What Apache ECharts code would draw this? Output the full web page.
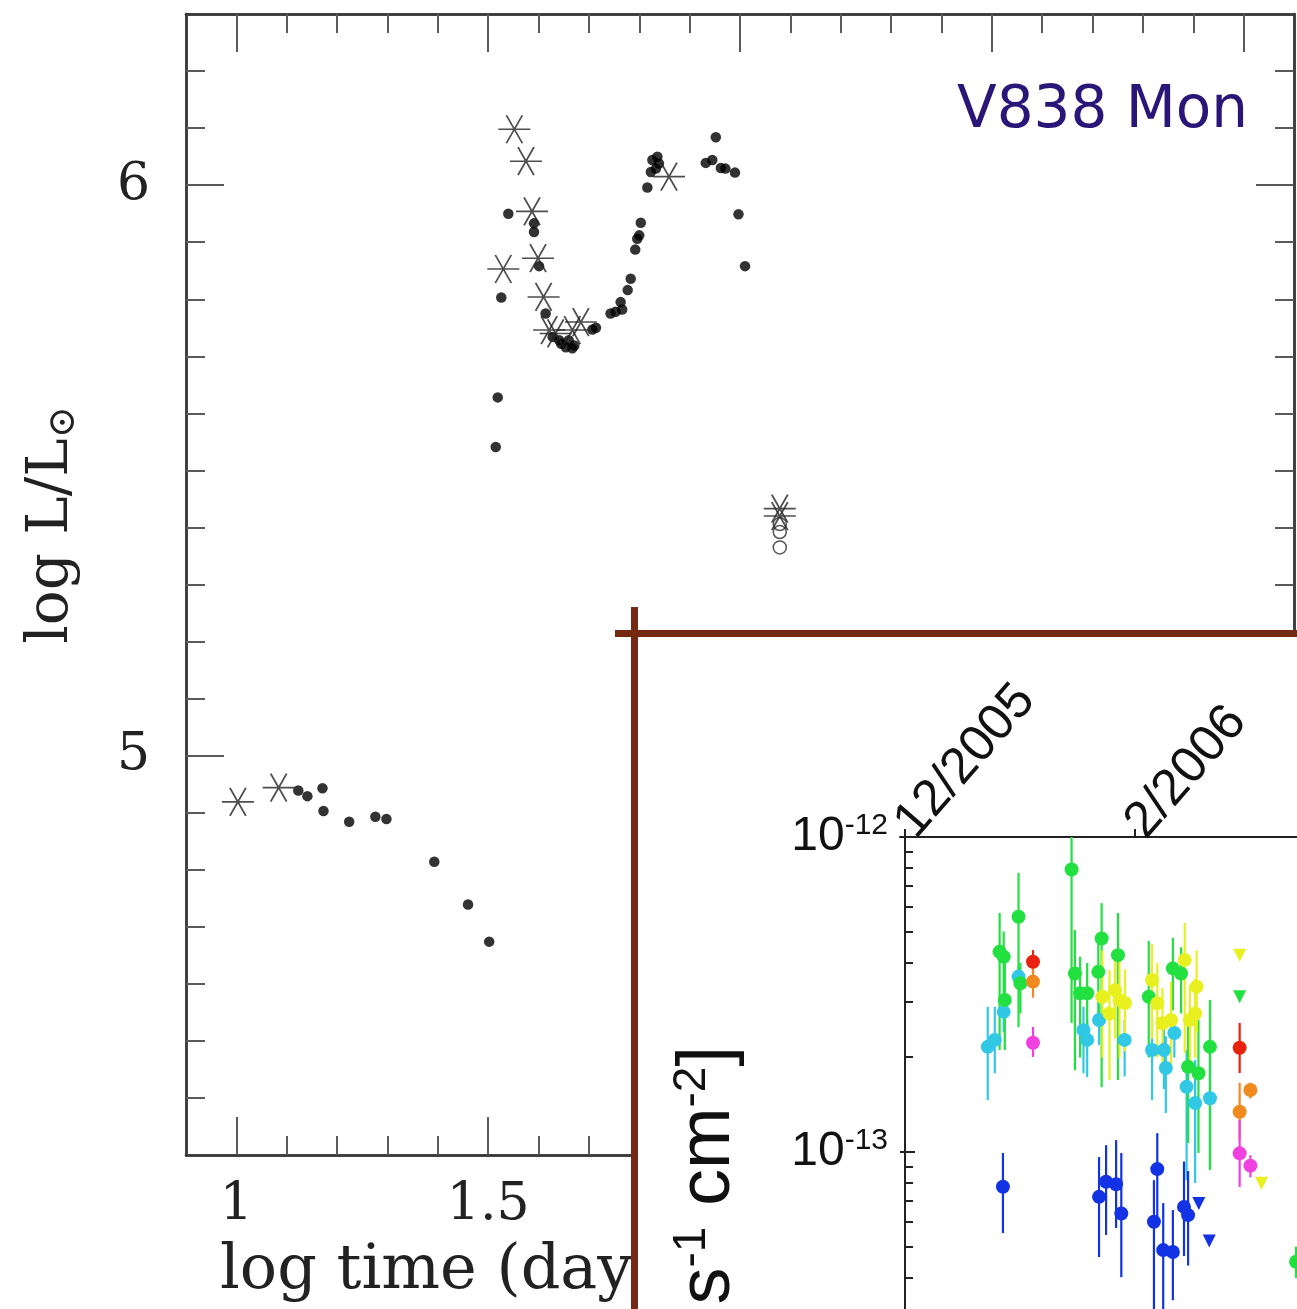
<!DOCTYPE html>
<html>
<head>
<meta charset="UTF-8">
<title>V838 Mon</title>
<script type="text/javascript" src="https://cdn.jsdelivr.net/npm/echarts@6/dist/echarts.min.js"></script>
<style>
html, body { margin:0; padding:0; overflow:hidden; background:#fff; }
</style>
</head>
<body>
<div id="main" style="width:1297px;height:1309px"></div>
<script type="text/javascript">
// main panel: log time (days) vs log L/Lsun
var dots = [
  [1.123,4.939],[1.141,4.929],[1.171,4.943],[1.173,4.903],[1.224,4.884],[1.276,4.893],[1.298,4.889],
  [1.393,4.814],[1.460,4.739],[1.502,4.674],
  [1.519,5.628],[1.515,5.541],[1.540,5.950],[1.591,5.933],[1.591,5.918],[1.601,5.858],[1.526,5.803],
  [1.614,5.775],[1.628,5.734],[1.641,5.728],[1.654,5.716],[1.667,5.714],[1.645,5.722],[1.660,5.728],
  [1.671,5.719],[1.707,5.747],[1.714,5.750],[1.743,5.775],[1.753,5.778],[1.766,5.782],[1.763,5.795],
  [1.777,5.816],[1.783,5.836],[1.792,5.887],[1.796,5.906],[1.800,5.912],[1.803,5.934],[1.816,5.996],
  [1.826,6.044],[1.836,6.050],[1.823,6.023],[1.833,6.029],[1.839,6.038],[1.952,6.084],[1.932,6.039],
  [1.945,6.044],[1.962,6.030],[1.971,6.029],[1.990,6.022],[1.997,5.949],[2.010,5.858]
];
var stars = [
  [1.003,4.919],[1.084,4.944],[1.552,6.098],[1.575,6.042],[1.587,5.954],[1.599,5.872],[1.530,5.853],
  [1.610,5.804],[1.621,5.746],[1.634,5.740],[1.667,5.746],[1.684,5.760],[1.859,6.015],[2.079,5.433],[2.079,5.420]
];
var rings = [[2.079,5.406],[2.079,5.392],[2.079,5.365]];

var xMinorTicks = [1.0,1.1,1.2,1.3,1.4,1.5,1.6,1.7,1.8,1.9,2.0,2.1,2.2,2.3,2.4,2.5,2.6,2.7,2.8,2.9,3.0];
var xMajorTicks = [1.0,1.5,2.0,2.5,3.0];
var xLabels = [1, 1.5];
var yMinorTicks = [4.4,4.5,4.6,4.7,4.8,4.9,5.0,5.1,5.2,5.3,5.4,5.5,5.6,5.7,5.8,5.9,6.0,6.1,6.2];
var yMajorTicks = [5, 6];
var yLabels = [5, 6];

// inset: days since 12/2005 vs log10 flux, [day, logF, errLow, errHigh]
var cyanPts = [
  [22.3,-12.666,-12.539,-12.835],[24.2,-12.644,-12.539,-12.75],[26.6,-12.555,-12.50,-12.62],[30.6,-12.443,-12.41,-12.48],
  [48.1,-12.613,-12.539,-12.75],[49.1,-12.644,-12.581,-12.762],[52.3,-12.581,-12.53,-12.66],[59.2,-12.644,-12.58,-12.76],
  [66.6,-12.676,-12.581,-12.835],[69.8,-12.676,-12.60,-12.80],[70.3,-12.733,-12.632,-12.876],[72.6,-12.622,-12.57,-12.70],
  [75.9,-12.793,-12.676,-13.089],[78.2,-12.844,-12.708,-13.098],[82.2,-12.829,-12.644,-13.057]
];
var greenPts = [
  [25.5,-12.364,-12.241,-12.676],[26.6,-12.380,-12.30,-12.50],[30.6,-12.253,-12.114,-12.603],[31.1,-12.464,-12.40,-12.56],
  [26.9,-12.517,-12.359,-12.676],[44.9,-12.103,-12.0,-12.590],[45.8,-12.433,-12.295,-12.740],[47.2,-12.496,-12.38,-12.70],
  [49.1,-12.496,-12.40,-12.66],[53.0,-12.322,-12.21,-12.794],[52.1,-12.428,-12.33,-12.60],[57.4,-12.375,-12.241,-12.771],
  [65.7,-12.507,-12.33,-12.70],[72.2,-12.417,-12.32,-12.55],[74.4,-12.433,-12.35,-12.56],[76.3,-12.729,-12.581,-12.971],
  [79.1,-12.750,-12.581,-13.003],[82.2,-12.666,-12.517,-13.057],[105.4,-13.348,-13.30,-13.40]
];
var yellowPts = [
  [53.2,-12.507,-12.36,-12.70],[55.1,-12.560,-12.422,-12.771],[56.6,-12.486,-12.38,-12.64],[57.8,-12.517,-12.39,-12.70],
  [59.3,-12.527,-12.42,-12.68],[66.6,-12.454,-12.34,-12.64],[68.0,-12.528,-12.40,-12.70],[69.4,-12.591,-12.48,-12.75],
  [71.7,-12.581,-12.46,-12.74],[75.4,-12.390,-12.273,-12.686],[76.8,-12.581,-12.47,-12.74],[78.6,-12.475,-12.36,-12.62],
  [78.2,-12.560,-12.45,-12.70]
];
var redPts = [[34.5,-12.396,-12.359,-12.432],[90.2,-12.669,-12.590,-12.749]];
var orangePts = [[34.5,-12.459,-12.41,-12.51],[90.2,-12.872,-12.78,-12.96],[93.1,-12.803,-12.78,-12.83]];
var magentaPts = [[34.5,-12.653,-12.603,-12.698],[90.2,-13.004,-12.898,-13.111],[93.1,-13.043,-13.01,-13.08]];
var bluePts = [
  [26.4,-13.110,-13.003,-13.257],[52.3,-13.142,-13.016,-13.333],[54.2,-13.094,-12.978,-13.263],[56.9,-13.102,-12.962,-13.241],
  [58.3,-13.195,-13.003,-13.397],[68.0,-13.054,-12.940,-13.216],[67.1,-13.221,-13.089,-13.55],[69.6,-13.311,-13.162,-13.55],
  [72.2,-13.317,-13.184,-13.47],[75.2,-13.174,-13.03,-13.33],[76.3,-13.200,-13.06,-13.36]
];
// upper limits (down triangles)
var greenLim = [[90.2,-12.507]];
var yellowLim = [[90.2,-12.375],[96.1,-13.099]];
var blueLim = [[79.2,-13.163],[82.0,-13.282]];

var dateTicks = [0, 62];
var dateLabels = ['12/2005', '2/2006'];
var fluxMinor = [9e-13,8e-13,7e-13,6e-13,5e-13,4e-13,3e-13,2e-13,9e-14,8e-14,7e-14,6e-14,5e-14,4e-14];
var fluxMajor = [-12, -13];

var myEcharts = echarts.init(document.getElementById('main'));

var serif = 'DejaVu Serif';
var starPath = 'path://M-16,0L16,0M-8,-13.86L8,13.86M8,-13.86L-8,13.86';

function mainAxis(pos, vals, len, labels, idx) {
  return {
    type: 'value', gridIndex: 0, position: pos,
    min: idx === 'x' ? 0.9 : 4.3, max: idx === 'x' ? 3.1 : 6.3,
    axisLine: { show: true, lineStyle: { color: '#3a3a3a', width: 2.5 } },
    axisTick: { show: true, inside: true, length: len, customValues: vals, lineStyle: { color: '#5a5a5a', width: 2 } },
    axisLabel: labels ? { show: true, customValues: labels, fontFamily: serif, fontSize: 52, color: '#222', margin: idx === 'x' ? 24 : 36 } : { show: false },
    splitLine: { show: false }
  };
}

function errBars(pts, color) {
  return {
    type: 'custom', xAxisIndex: 4, yAxisIndex: 4, z: 31, clip: true,
    encode: { x: 0, y: 1 },
    data: pts,
    renderItem: function (params, api) {
      var x = api.value(0);
      var p1 = api.coord([x, api.value(2)]);
      var p2 = api.coord([x, api.value(3)]);
      return { type: 'line', shape: { x1: p1[0], y1: p1[1], x2: p2[0], y2: p2[1] },
               style: { stroke: color, lineWidth: 2.2 } };
    }
  };
}
function pts(data, color, sym) {
  return {
    type: 'scatter', xAxisIndex: 4, yAxisIndex: 4, z: 32, clip: true,
    symbol: sym || 'circle', symbolSize: sym ? 13 : 14, symbolRotate: sym ? 180 : 0,
    itemStyle: { color: color, opacity: 1 },
    data: data.map(function (d) { return [d[0], d[1]]; })
  };
}

var cols = { cyan: '#31c8e6', green: '#22e040', yellow: '#e8f020', red: '#e8220e',
             orange: '#f08a20', magenta: '#f040e0', blue: '#1232e4' };

var option = {
  backgroundColor: '#ffffff',
  animation: false,
  grid: [
    { left: 186, top: 14, width: 1108, height: 1141, show: false },
    { left: 900, top: 837, right: 0, bottom: 0, show: false, z: 25 }
  ],
  xAxis: [
    mainAxis('bottom', xMinorTicks, 19, xLabels, 'x'),
    mainAxis('bottom', xMajorTicks, 38, null, 'x'),
    mainAxis('top', xMinorTicks, 19, null, 'x'),
    mainAxis('top', xMajorTicks, 38, null, 'x'),
    {
      type: 'value', gridIndex: 1, position: 'top', min: -1.35, max: 105.66, z: 30,
      axisLine: { show: true, lineStyle: { color: '#222', width: 2 } },
      axisTick: { show: true, inside: false, length: 8, customValues: dateTicks, lineStyle: { color: '#222', width: 2 } },
      axisLabel: { show: true, customValues: dateTicks, rotate: -49, fontFamily: 'Liberation Sans', fontSize: 51, color: '#111', margin: 6,
        formatter: function (v) { return dateLabels[dateTicks.indexOf(v)]; } },
      splitLine: { show: false }
    }
  ],
  yAxis: [
    mainAxis('left', yMinorTicks, 19, yLabels, 'y'),
    mainAxis('left', yMajorTicks, 38, null, 'y'),
    mainAxis('right', yMinorTicks, 19, null, 'y'),
    mainAxis('right', yMajorTicks, 38, null, 'y'),
    {
      type: 'value', gridIndex: 1, position: 'left', min: -13.498, max: -12, z: 30,
      axisLine: { show: true, lineStyle: { color: '#222', width: 2 } },
      axisTick: { show: true, inside: true, length: 8, customValues: fluxMinor.map(function (v) { return Math.log10(v); }), lineStyle: { color: '#222', width: 2 } },
      axisLabel: { show: true, customValues: fluxMajor, margin: 12, color: '#111',
        formatter: function (v) { return '{b|10}{s|' + v + '}'; },
        rich: { b: { fontFamily: 'Liberation Sans', fontSize: 48, color: '#111' },
                s: { fontFamily: 'Liberation Sans', fontSize: 30, color: '#111', verticalAlign: 'top', padding: [0, 0, 22, 0] } } },
      splitLine: { show: false }
    },
    {
      type: 'value', gridIndex: 1, position: 'left', min: -13.498, max: -12, z: 30,
      axisLine: { show: false },
      axisTick: { show: true, inside: true, length: 15, customValues: fluxMajor, lineStyle: { color: '#222', width: 2 } },
      axisLabel: { show: false }, splitLine: { show: false }
    }
  ],
  graphic: [
    { type: 'text', z: 5, x: 52, y: 525, rotation: Math.PI / 2,
      style: { text: '{m|log L/L}{u|⊙}', textAlign: 'center', textVerticalAlign: 'middle',
        rich: { m: { fontFamily: serif, fontSize: 58, fill: '#222' }, u: { fontFamily: serif, fontSize: 38, fill: '#222', padding: [24, 0, 0, 0] } } } },
    { type: 'text', z: 5, x: 220, y: 1272,
      style: { text: 'log time (days)', fontFamily: serif, fontSize: 62, fill: '#222', textAlign: 'left', textVerticalAlign: 'middle' } },
    { type: 'text', z: 5, x: 957, y: 112,
      style: { text: 'V838 Mon', fontFamily: 'DejaVu Sans', fontSize: 58, fill: '#2a1678', textAlign: 'left', textVerticalAlign: 'middle' } },
    { type: 'rect', z: 20, shape: { x: 636, y: 636, width: 700, height: 700 }, style: { fill: '#ffffff' } },
    { type: 'text', z: 30, x: 709, y: 1046, rotation: Math.PI / 2,
      style: { text: '{n|Flux [erg s}{p|-1}{n| cm}{p|-2}{n|]}', textAlign: 'right', textVerticalAlign: 'middle',
        rich: { n: { fontFamily: 'Liberation Sans', fontSize: 74, fill: '#111' }, p: { fontFamily: 'Liberation Sans', fontSize: 46, fill: '#111', padding: [0, 0, 34, 0] } } } },
    { type: 'rect', z: 40, shape: { x: 615, y: 630, width: 700, height: 7 }, style: { fill: '#742a12' } },
    { type: 'rect', z: 40, shape: { x: 631, y: 607, width: 7, height: 720 }, style: { fill: '#742a12' } }
  ],
  series: [
    { type: 'scatter', xAxisIndex: 0, yAxisIndex: 0, z: 3, symbol: 'circle', symbolSize: 10.5,
      itemStyle: { color: '#000' }, data: dots },
    { type: 'scatter', xAxisIndex: 0, yAxisIndex: 0, z: 4, symbol: starPath, symbolSize: [32, 28],
      itemStyle: { color: 'none', borderColor: '#222', borderWidth: 1.7 }, data: stars },
    { type: 'scatter', xAxisIndex: 0, yAxisIndex: 0, z: 4, symbol: 'circle', symbolSize: 13,
      itemStyle: { color: 'rgba(0,0,0,0)', borderColor: '#2a2a2a', borderWidth: 1.5 }, data: rings },
    errBars(cyanPts, cols.cyan), pts(cyanPts, cols.cyan),
    errBars(greenPts, cols.green), pts(greenPts, cols.green),
    errBars(yellowPts, cols.yellow), pts(yellowPts, cols.yellow),
    errBars(redPts, cols.red), pts(redPts, cols.red),
    errBars(orangePts, cols.orange), pts(orangePts, cols.orange),
    errBars(magentaPts, cols.magenta), pts(magentaPts, cols.magenta),
    errBars(bluePts, cols.blue), pts(bluePts, cols.blue),
    pts(greenLim, cols.green, 'triangle'), pts(yellowLim, cols.yellow, 'triangle'), pts(blueLim, cols.blue, 'triangle')
  ]
};

myEcharts.setOption(option);
</script>
</body>
</html>
